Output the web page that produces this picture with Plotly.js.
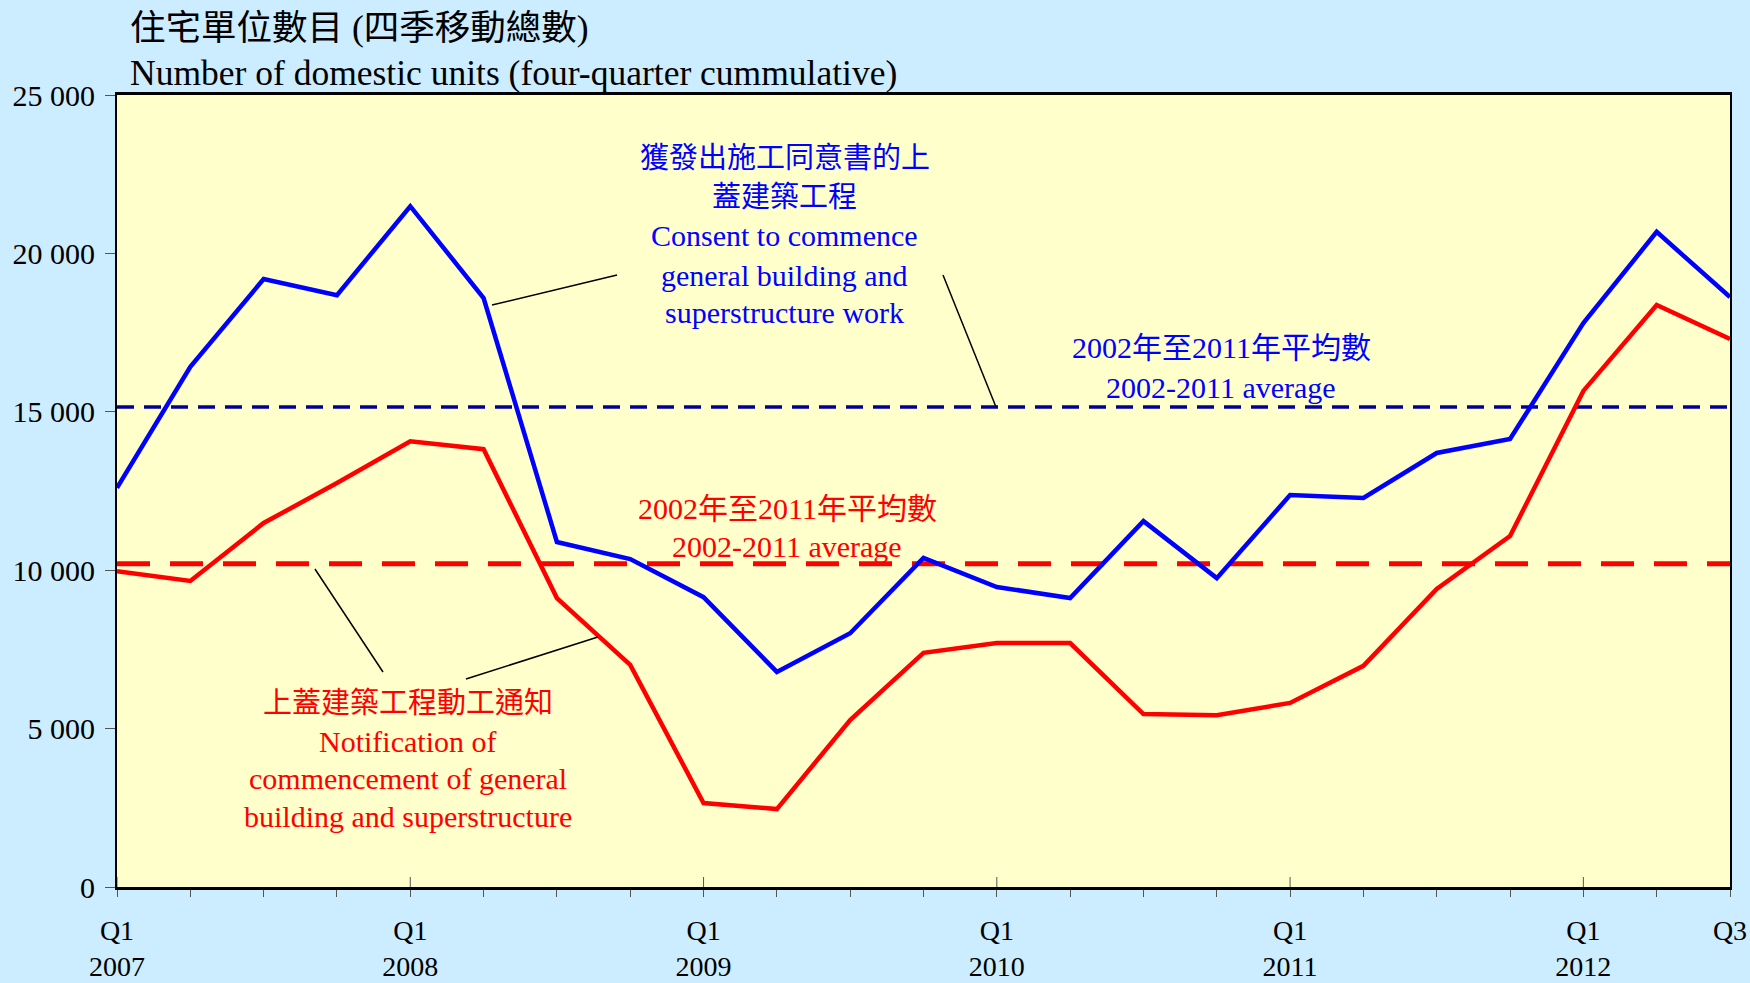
<!DOCTYPE html>
<html>
<head>
<meta charset="utf-8">
<script src="https://cdn.plot.ly/plotly-3.0.1.min.js"></script>
<style>
html,body{margin:0;padding:0;background:#CCECFF;}
#chart{width:1750px;height:983px;}
</style>
</head>
<body>
<div id="chart"></div>
<script>
// Quarter index: 0 = Q1 2007 ... 22 = Q3 2012
const quarters = [0,1,2,3,4,5,6,7,8,9,10,11,12,13,14,15,16,17,18,19,20,21,22];

// Consent to commence general building and superstructure work (blue)
const consentUnits = [12600,16420,19190,18680,21490,18590,10890,10350,9150,6790,8010,10390,9470,9120,11550,9750,12370,12280,13700,14140,17800,20680,18620];

// Notification of commencement of general building and superstructure (red)
const notificationUnits = [9970,9660,11490,12750,14070,13820,9120,7010,2650,2460,5270,7390,7700,7700,5460,5420,5810,6980,9410,11080,15660,18370,17300];

// 2002-2011 averages
const consentAverage = 15150;
const notificationAverage = 10200;

// Axis ticks
const xTickVals = [0,1,2,3,4,5,6,7,8,9,10,11,12,13,14,15,16,17,18,19,20,21,22];
const xTickText = ['Q1<br>2007','','','','Q1<br>2008','','','','Q1<br>2009','','','','Q1<br>2010','','','','Q1<br>2011','','','','Q1<br>2012','','Q3'];
const xMajorTicks = [0,4,8,12,16,20];
const yTickVals = [0,5000,10000,15000,20000,25000];
const yTickText = ['0','5 000','10 000','15 000','20 000','25 000'];

const serif = '"Liberation Serif","Times New Roman","Noto Sans CJK TC",serif';
const BLUE = '#0000FF', RED = '#FF0000', NAVY = '#000099';

const traces = [
  {x:[quarters[0], quarters[quarters.length-1]], y:[consentAverage, consentAverage], mode:'lines',
   line:{color:NAVY, width:3.5, dash:'17px,10px'}, hoverinfo:'skip'},
  {x:[quarters[0], quarters[quarters.length-1]], y:[notificationAverage, notificationAverage], mode:'lines',
   line:{color:RED, width:5, dash:'33px,20px'}, hoverinfo:'skip'},
  {x:quarters, y:consentUnits, mode:'lines', line:{color:BLUE, width:4.5}},
  {x:quarters, y:notificationUnits, mode:'lines', line:{color:RED, width:4.5}}
];

function lbl(text, x, y, color, size){
  return {text:text, x:x, y:y, xref:'paper', yref:'paper', xanchor:'center', yanchor:'middle',
          showarrow:false, font:{family:serif, size:size||30, color:color}};
}

const annotations = [
  {text:'住宅單位數目 (四季移動總數)', x:0.0068, y:1.0846, xref:'paper', yref:'paper', xanchor:'left', yanchor:'middle',
   showarrow:false, font:{family:serif, size:35.5, color:'#000000'}},
  {text:'Number of domestic units (four-quarter cummulative)', x:0.0068, y:1.0278, xref:'paper', yref:'paper', xanchor:'left', yanchor:'middle',
   showarrow:false, font:{family:serif, size:35.5, color:'#000000'}},
  lbl('獲發出施工同意書的上', 0.4141, 0.9205, BLUE, 29),
  lbl('蓋建築工程', 0.4141, 0.8712, BLUE, 29),
  lbl('Consent to commence', 0.4141, 0.8220, BLUE),
  lbl('general building and', 0.4141, 0.7727, BLUE),
  lbl('superstructure work', 0.4141, 0.7260, BLUE),
  lbl('2002年至2011年平均數', 0.6845, 0.6806, BLUE),
  lbl('2002-2011 average', 0.6845, 0.6313, BLUE),
  lbl('2002年至2011年平均數', 0.4154, 0.4785, RED),
  lbl('2002-2011 average', 0.4154, 0.4300, RED),
  lbl('上蓋建築工程動工通知', 0.1804, 0.2323, RED, 29),
  lbl('Notification of', 0.1804, 0.1843, RED),
  lbl('commencement of general', 0.1804, 0.1364, RED),
  lbl('building and superstructure', 0.1804, 0.0884, RED)
];

const shapes = [
  {type:'line', xref:'x', yref:'y', x0:5.115, y0:18371, x1:6.820, y1:19318, line:{color:'#000', width:1.5}},
  {type:'line', xref:'x', yref:'y', x0:11.266, y0:19318, x1:11.989, y1:15152, line:{color:'#000', width:1.5}},
  {type:'line', xref:'x', yref:'y', x0:2.700, y0:10038, x1:3.628, y1:6786, line:{color:'#000', width:1.5}},
  {type:'line', xref:'x', yref:'y', x0:4.760, y0:6566, x1:6.560, y1:7891, line:{color:'#000', width:1.5}}
];
xMajorTicks.forEach(q => {
  shapes.push({type:'line', xref:'x', yref:'y', ysizemode:'pixel', yanchor:0, x0:q, x1:q, y0:-10, y1:10,
               line:{color:'#555', width:1}});
});

const layout = {
  width:1750, height:983,
  paper_bgcolor:'#CCECFF', plot_bgcolor:'#FFFFCC',
  margin:{l:117, r:20, t:95, b:96},
  showlegend:false,
  xaxis:{range:[0,22], tickmode:'array', tickvals:xTickVals, ticktext:xTickText,
         ticks:'outside', ticklen:7, tickcolor:'#555', tickwidth:1,
         showline:true, linecolor:'#000', linewidth:3, mirror:true,
         showgrid:false, zeroline:false, ticklabelstandoff:9,
         tickfont:{family:serif, size:28, color:'#000'}, fixedrange:true},
  yaxis:{range:[0,25000], tickmode:'array', tickvals:yTickVals, ticktext:yTickText,
         ticks:'outside', ticklen:10, tickcolor:'#555', tickwidth:1,
         showline:true, linecolor:'#000', linewidth:2, mirror:true,
         showgrid:false, zeroline:false, ticklabelstandoff:4,
         tickfont:{family:serif, size:30, color:'#000'}, fixedrange:true},
  annotations:annotations,
  shapes:shapes
};

Plotly.newPlot('chart', traces, layout, {displayModeBar:false, staticPlot:true});
</script>
</body>
</html>
